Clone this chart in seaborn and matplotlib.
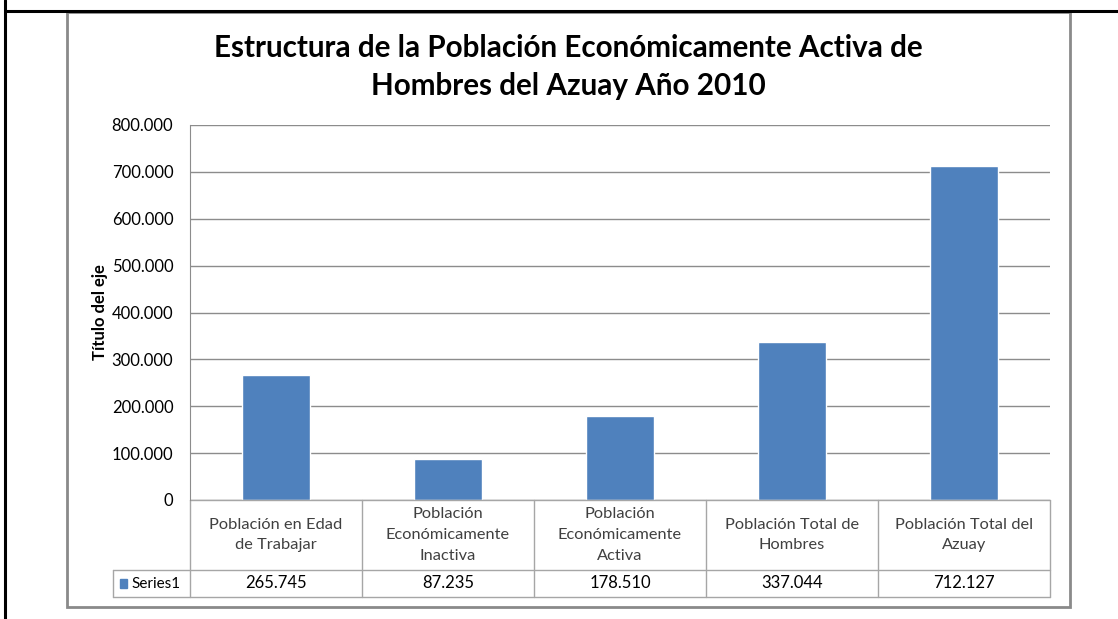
import matplotlib
matplotlib.use("Agg")
import matplotlib.pyplot as plt
import matplotlib.transforms as mtransforms
from matplotlib.patches import Rectangle
from matplotlib.lines import Line2D
from matplotlib.ticker import FuncFormatter, MultipleLocator
import seaborn as sns
import pandas as pd

# Data
categories = ["Población en Edad\nde Trabajar",
              "Población\nEconómicamente\nInactiva",
              "Población\nEconómicamente\nActiva",
              "Población Total de\nHombres",
              "Población Total del\nAzuay"]
values = [265745, 87235, 178510, 337044, 712127]
series_name = "Series1"
title = "Estructura de la Población Económicamente Activa de\nHombres del Azuay Año 2010"
y_label = "Título del eje"

df = pd.DataFrame({"cat": categories, "val": values})

sns.set_style("white")
plt.rcParams["font.family"] = ["Lato", "DejaVu Sans"]

W, H = 1118, 619
fig = plt.figure(figsize=(W / 100, H / 100), dpi=100)


def fx(px):
    return px / W


def fy(py):
    return 1 - py / H


bar_color = "#4F81BD"
grid_color = "#8C8C8C"
table_color = "#A6A6A6"
text_color = "#404040"

# Plot area
ax = fig.add_axes([fx(190), fy(500), fx(1050) - fx(190), fy(125) - fy(500)])
sns.barplot(data=df, x="cat", y="val", color=bar_color, width=0.4,
            saturation=1, ax=ax)
ax.set_ylim(0, 800000)
ax.set_xlim(-0.5, len(categories) - 0.5)
ax.yaxis.set_major_locator(MultipleLocator(100000))
ax.yaxis.set_major_formatter(FuncFormatter(lambda v, p: f"{int(v):,}".replace(",", ".")))
ax.grid(axis="y", color=grid_color, linewidth=1)
ax.set_axisbelow(True)
ax.set_xticks([])
ax.set_xlabel("")
ax.set_ylabel(y_label, fontsize=12, fontweight="bold", color="black", labelpad=3)
ax.tick_params(axis="y", length=0, pad=12, labelsize=12, labelcolor="black")
for s in ["top", "right", "bottom"]:
    ax.spines[s].set_visible(False)
ax.spines["left"].set_color(grid_color)

# Data table below the plot
trans = mtransforms.blended_transform_factory(ax.transData, ax.transAxes)
h = fy(125) - fy(500)
row1 = -(570 - 500) * (1 / H) / h
row2 = -(597 - 500) * (1 / H) / h
leg_left = -0.5 - 77 / 172

n = len(categories)
ax.add_line(Line2D([-0.5, n - 0.5], [0, 0], transform=trans, color=table_color, lw=1, clip_on=False))
for yy in [row1, row2]:
    ax.add_line(Line2D([leg_left, n - 0.5], [yy, yy], transform=trans, color=table_color, lw=1, clip_on=False))
for i in range(n + 1):
    ax.add_line(Line2D([i - 0.5, i - 0.5], [0, row2], transform=trans, color=table_color, lw=1, clip_on=False))
ax.add_line(Line2D([leg_left, leg_left], [row1, row2], transform=trans, color=table_color, lw=1, clip_on=False))

for i, (c, v) in enumerate(zip(categories, values)):
    ax.text(i, row1 / 2, c, transform=trans, ha="center", va="center",
            fontsize=11.8, color=text_color, linespacing=1.6)
    ax.text(i, (row1 + row2) / 2, f"{v:,}".replace(",", "."), transform=trans,
            ha="center", va="center", fontsize=12, color="black")

# Legend key in table
ax.add_patch(Rectangle((leg_left + 0.04, (row1 + row2) / 2 - 0.011), 0.042, 0.022,
                       transform=trans, color=bar_color, clip_on=False))
ax.text(leg_left + 0.105, (row1 + row2) / 2, series_name, transform=trans,
        ha="left", va="center", fontsize=11, color="black")

# Title
fig.text(fx(568), fy(67), title, ha="center", va="center", fontsize=21.3,
         fontweight="bold", color="black", linespacing=1.45)

# Chart border
fig.patches.append(Rectangle((fx(67), fy(607)), fx(1070) - fx(67), fy(12) - fy(607),
                             transform=fig.transFigure, fill=False,
                             edgecolor="#8A8A8A", linewidth=2))

# Outer black frame lines
fig.lines.append(Line2D([fx(5), 1], [fy(11), fy(11)], transform=fig.transFigure, color="black", lw=2.2))
fig.lines.append(Line2D([fx(5), fx(5)], [0, 1], transform=fig.transFigure, color="black", lw=2.2))

fig.savefig("out.png", dpi=100)
